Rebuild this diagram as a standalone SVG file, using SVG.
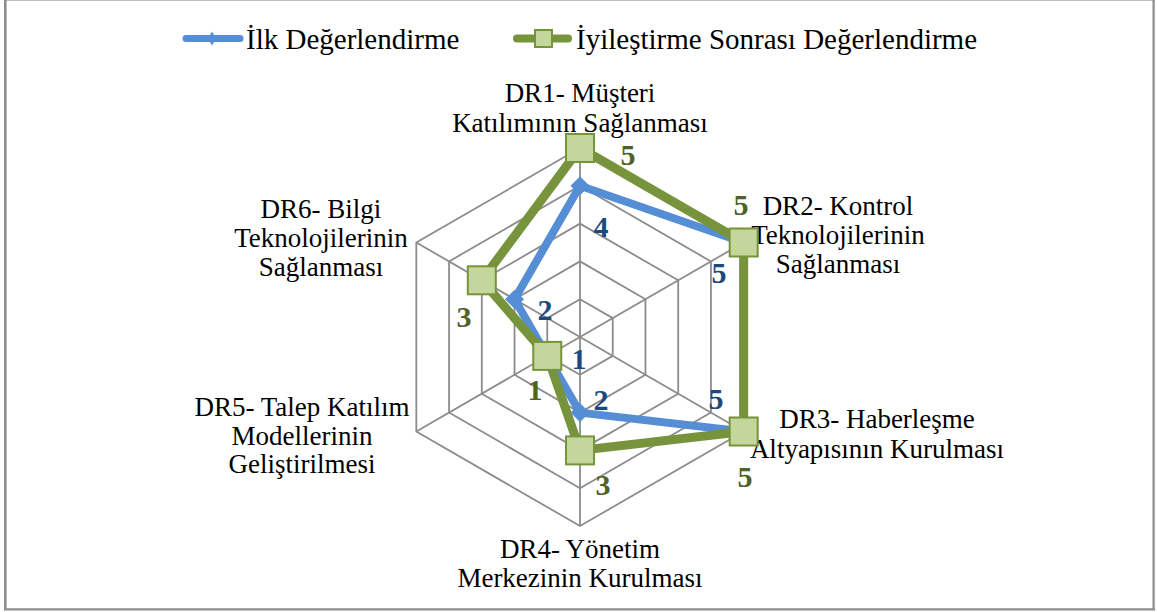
<svg xmlns="http://www.w3.org/2000/svg" width="1157" height="612" viewBox="0 0 1157 612" font-family="'Liberation Serif', 'DejaVu Serif', serif">
  <style>
    text { font-family: 'Liberation Serif', 'DejaVu Serif', serif; fill: #000; }
    .legend { font-size: 29px; }
    .axis { font-size: 27px; text-anchor: middle; }
    .val { font-size: 30px; font-weight: bold; text-anchor: middle; }
    .vb { fill: #1F497D; }
    .vg { fill: #4F6228; }
    .grid { fill: none; stroke: #8C8C8C; stroke-width: 1.8; }
    .s1 { fill: none; stroke: #558ED5; stroke-width: 8; stroke-linejoin: round; }
    .s2 { fill: none; stroke: #77933C; stroke-width: 9; stroke-linejoin: round; }
    .m1 { fill: #558ED5; stroke: #558ED5; stroke-width: 1; }
    .m2 { fill: #C3D69B; stroke: #77933C; stroke-width: 2; }
  </style>
  <defs>
    <path id="diamond" d="M0,-9 L9,0 L0,9 L-9,0 Z"/>
    <rect id="square" x="-14" y="-14" width="28" height="28"/>
  </defs>

  <rect x="0" y="0" width="1157" height="612" fill="#FFFFFF"/>
  <!-- frame -->
  <g id="frame">
    <line x1="5" y1="0.5" x2="1154" y2="0.5" stroke="#BDBDBD" stroke-width="1.2"/>
    <line x1="5.3" y1="0" x2="5.3" y2="610" stroke="#8C8C8C" stroke-width="2.6"/>
    <line x1="1153.6" y1="0" x2="1153.6" y2="610" stroke="#8C8C8C" stroke-width="2.2"/>
    <line x1="4" y1="609.3" x2="1155" y2="609.3" stroke="#8C8C8C" stroke-width="2.2"/>
  </g>

  <!-- legend -->
  <g id="legend" font-family="Liberation Serif">
    <line x1="186" y1="38.5" x2="240" y2="38.5" stroke="#558ED5" stroke-width="7" stroke-linecap="round"/>
    <path d="M212,31.5 L216,38.5 L212,45.5 L208,38.5 Z" fill="#558ED5"/>
    <text class="legend" x="246" y="48.5" font-family="Liberation Serif">İlk Değerlendirme</text>
    <line x1="517" y1="38.5" x2="568" y2="38.5" stroke="#77933C" stroke-width="8" stroke-linecap="round"/>
    <rect x="535" y="30" width="17" height="17" fill="#C3D69B" stroke="#77933C" stroke-width="2"/>
    <text class="legend" x="576" y="48.5" font-family="Liberation Serif">İyileştirme Sonrası Değerlendirme</text>
  </g>

  <!-- radar grid: rings for levels 1..5 and spokes -->
  <g id="grid">
    <polygon class="grid" points="580,299.2 612.74,318.1 612.74,355.9 580,374.8 547.26,355.9 547.26,318.1"/>
    <polygon class="grid" points="580,261.4 645.47,299.2 645.47,374.8 580,412.6 514.53,374.8 514.53,299.2"/>
    <polygon class="grid" points="580,223.6 678.21,280.3 678.21,393.7 580,450.4 481.79,393.7 481.79,280.3"/>
    <polygon class="grid" points="580,185.8 710.94,261.4 710.94,412.6 580,488.2 449.06,412.6 449.06,261.4"/>
    <polygon class="grid" points="580,148 743.68,242.5 743.68,431.5 580,526 416.32,431.5 416.32,242.5"/>
    <path class="grid" d="M580,337 L580,148 M580,337 L743.68,242.5 M580,337 L743.68,431.5 M580,337 L580,526 M580,337 L416.32,431.5 M580,337 L416.32,242.5"/>
  </g>

  <!-- axis labels -->
  <g id="DR1">
    <text class="axis" x="580" y="102">DR1- Müşteri</text>
    <text class="axis" x="580" y="132">Katılımının Sağlanması</text>
  </g>
  <g id="DR2">
    <text class="axis" x="838" y="215">DR2- Kontrol</text>
    <text class="axis" x="838" y="244">Teknolojilerinin</text>
    <text class="axis" x="838" y="273">Sağlanması</text>
  </g>
  <g id="DR3">
    <text class="axis" x="877" y="428">DR3- Haberleşme</text>
    <text class="axis" x="877" y="458">Altyapısının Kurulması</text>
  </g>
  <g id="DR4">
    <text class="axis" x="580" y="558">DR4- Yönetim</text>
    <text class="axis" x="580" y="587">Merkezinin Kurulması</text>
  </g>
  <g id="DR5">
    <text class="axis" x="302" y="416">DR5- Talep Katılım</text>
    <text class="axis" x="302" y="445">Modellerinin</text>
    <text class="axis" x="302" y="473">Geliştirilmesi</text>
  </g>
  <g id="DR6">
    <text class="axis" x="321" y="218">DR6- Bilgi</text>
    <text class="axis" x="321" y="247">Teknolojilerinin</text>
    <text class="axis" x="321" y="276">Sağlanması</text>
  </g>

  <!-- data series -->
  <g id="connectors">
    <polygon id="series-ilk" class="s1" points="580,185.8 743.68,242.5 743.68,431.5 580,412.6 547.26,355.9 514.53,299.2"/>
    <polygon id="series-iyilestirme" class="s2" points="580,148 743.68,242.5 743.68,431.5 580,450.4 547.26,355.9 481.79,280.3"/>
  </g>
  <g id="markers-ilk">
    <use href="#diamond" class="m1" x="580" y="185.8"/>
    <use href="#diamond" class="m1" x="743.68" y="242.5"/>
    <use href="#diamond" class="m1" x="743.68" y="431.5"/>
    <use href="#diamond" class="m1" x="580" y="412.6"/>
    <use href="#diamond" class="m1" x="547.26" y="355.9"/>
    <use href="#diamond" class="m1" x="514.53" y="299.2"/>
  </g>
  <g id="markers-iyilestirme">
    <use href="#square" class="m2" x="580" y="148"/>
    <use href="#square" class="m2" x="743.68" y="242.5"/>
    <use href="#square" class="m2" x="743.68" y="431.5"/>
    <use href="#square" class="m2" x="580" y="450.4"/>
    <use href="#square" class="m2" x="547.26" y="355.9"/>
    <use href="#square" class="m2" x="481.79" y="280.3"/>
  </g>

  <!-- value labels -->
  <g id="values-ilk">
    <text class="val vb" x="601" y="237">4</text>
    <text class="val vb" x="719" y="283">5</text>
    <text class="val vb" x="716" y="409">5</text>
    <text class="val vb" x="601" y="410">2</text>
    <text class="val vb" x="579" y="369">1</text>
    <text class="val vb" x="545" y="320">2</text>
  </g>
  <g id="values-iyilestirme">
    <text class="val vg" x="628" y="165">5</text>
    <text class="val vg" x="741" y="215">5</text>
    <text class="val vg" x="745" y="487">5</text>
    <text class="val vg" x="603" y="495">3</text>
    <text class="val vg" x="535" y="400">1</text>
    <text class="val vg" x="464" y="327">3</text>
  </g>
</svg>
